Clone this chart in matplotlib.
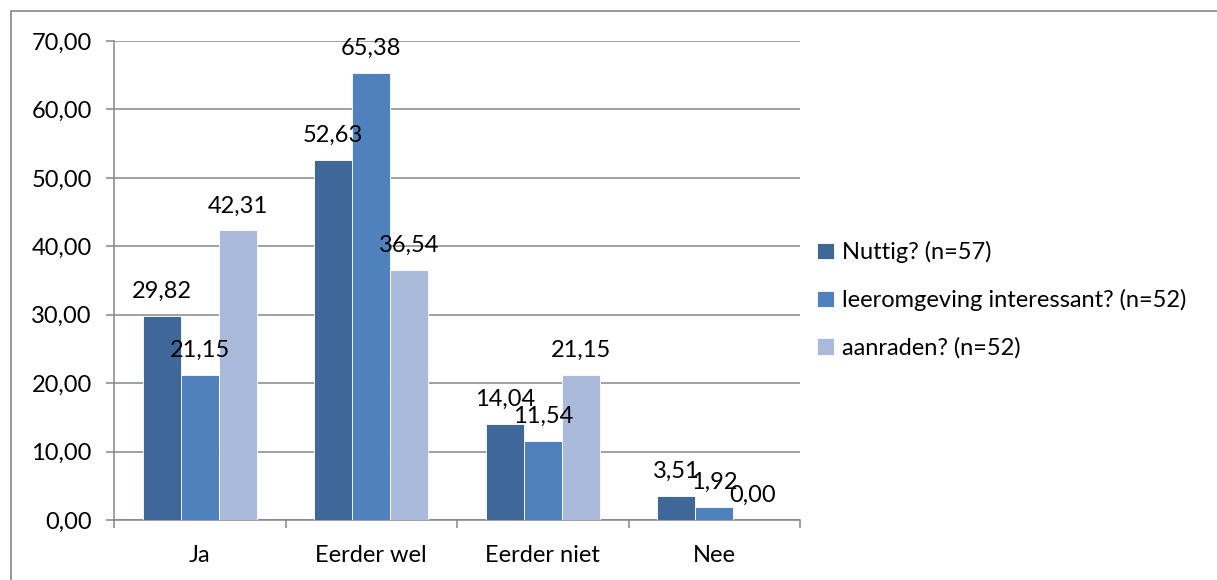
import numpy as np
import matplotlib.pyplot as plt
from matplotlib.patches import Rectangle

categories = ["Ja", "Eerder wel", "Eerder niet", "Nee"]
series_names = ["Nuttig? (n=57)", "leeromgeving interessant? (n=52)", "aanraden? (n=52)"]
nuttig = [29.82, 52.63, 14.04, 3.51]
leeromgeving = [21.15, 65.38, 11.54, 1.92]
aanraden = [42.31, 36.54, 21.15, 0.00]
colors = ["#3F6797", "#4F81BD", "#A9BADB"]

plt.rcParams["font.family"] = ["Lato", "DejaVu Sans"]
plt.rcParams["font.size"] = 17

fig = plt.figure(figsize=(12.17, 5.8), dpi=100)
ax = fig.add_axes([114 / 1217, 60 / 580, 686 / 1217, 479 / 580])

# chart border (light gray frame, cut off at right/bottom like the original)
fig.patches.append(Rectangle((11 / 1217, -0.05), 1.2, (569 / 580) + 0.05,
                             transform=fig.transFigure, fill=False,
                             edgecolor="#868686", linewidth=1.2))

x = np.arange(len(categories))
w = 0.222
for i, (vals, name) in enumerate(zip([nuttig, leeromgeving, aanraden], series_names)):
    pos = x + (i - 1) * w
    bars = ax.bar(pos, vals, width=w, color=colors[i], edgecolor="white",
                  linewidth=0.6, label=name, zorder=3)
    for b, v in zip(bars, vals):
        ax.annotate(f"{v:.2f}".replace(".", ","),
                    (b.get_x() + b.get_width() / 2, v),
                    xytext=(0, 13), textcoords="offset points",
                    ha="center", va="baseline", zorder=4)

ax.set_xlim(-0.5, len(categories) - 0.5)
ax.set_ylim(0, 70)
yt = np.arange(0, 71, 10)
ax.set_yticks(yt)
ax.set_yticklabels([f"{t:.2f}".replace(".", ",") for t in yt])
ax.yaxis.grid(True, color="#868686", linewidth=1.1, zorder=0)

ax.set_xticks(np.arange(len(categories) + 1) - 0.5)
ax.set_xticklabels([])
ax.set_xticks(x, minor=True)
ax.set_xticklabels(categories, minor=True)
ax.tick_params(axis="x", which="minor", length=0, pad=18)
ax.tick_params(axis="x", which="major", length=6, color="#868686", width=1.1)
ax.tick_params(axis="y", length=6, color="#868686", width=1.1, pad=10)

for s in ["top", "right"]:
    ax.spines[s].set_visible(False)
for s in ["left", "bottom"]:
    ax.spines[s].set_color("#868686")
    ax.spines[s].set_linewidth(1.1)

ax.legend(loc="center left", bbox_to_anchor=(808 / 1217, 280 / 580),
          bbox_transform=fig.transFigure, frameon=False,
          handlelength=0.7, handleheight=0.7, handletextpad=0.35,
          labelspacing=1.1, borderaxespad=0)

fig.savefig("out.png", dpi=100)
